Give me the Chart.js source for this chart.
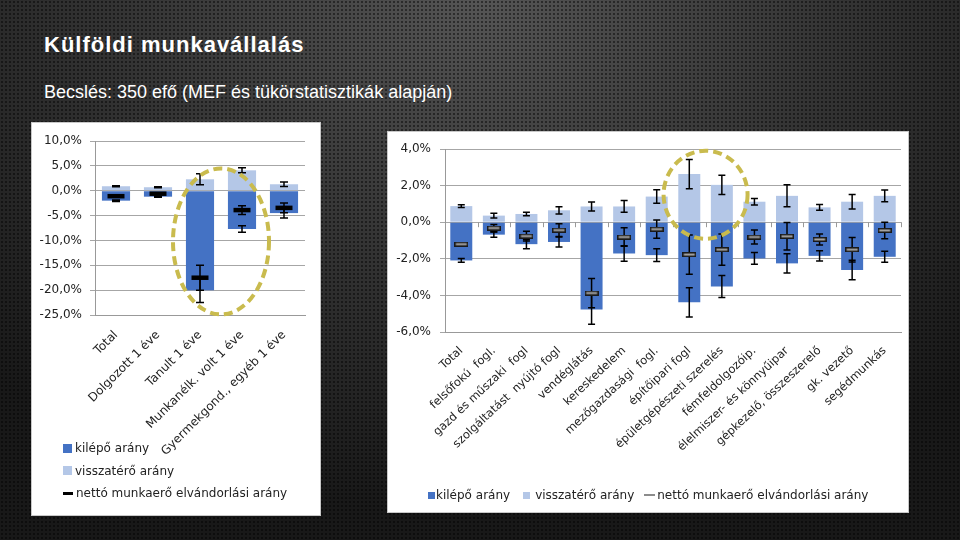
<!DOCTYPE html>
<html lang="hu">
<head>
<meta charset="UTF-8">
<title>Külföldi munkavállalás</title>
<script src="https://cdn.jsdelivr.net/npm/chart.js"></script>
<style>
  html, body { margin: 0; padding: 0; }
  body {
    width: 960px; height: 540px; overflow: hidden; position: relative;
    background-color: #262626;
    background-image:
      radial-gradient(circle, rgba(0,0,0,0.45) 0.8px, transparent 1.4px),
      radial-gradient(ellipse 75% 95% at 50% 0%, #555 0%, #343434 50%, #181818 100%);
    background-size: 4px 4px, 100% 100%;
    font-family: "Liberation Sans", Arial, sans-serif;
  }
  .title { position: absolute; left: 44px; top: 34px; font-size: 22px; font-weight: bold; letter-spacing: 1px; color: #fff; line-height: 1; }
  .subtitle { position: absolute; left: 44px; top: 83px; font-size: 18px; color: #fff; line-height: 1; }
  .panel { position: absolute; background: #fff; outline: 1px solid #c8c8c8; }
  .panel canvas { position: absolute; left: 0; top: 0; }
  #leftPanel { left: 32px; top: 123px; width: 288px; height: 392px; }
  #rightPanel { left: 388px; top: 132px; width: 520px; height: 380px; }
  .legend { position: absolute; font-family: "DejaVu Sans", sans-serif; font-size: 12px; color: #222; }
  .legend .item { display: flex; align-items: center; height: 14px; white-space: nowrap; }
  .sw { display: inline-block; flex: none; }
  #leftLegend { left: 31px; top: 318px; }
  #leftLegend .item { margin-bottom: 8.5px; }
  #leftLegend .sw { width: 9px; height: 9px; margin-right: 3px; }
  #leftLegend .sw2 { width: 10px; height: 3px; background: #000; }
  #rightLegend { left: 40px; top: 356px; display: flex; }
  #rightLegend .sw { width: 7px; height: 7px; margin-right: 1px; }
  #rightLegend .item:nth-child(1) { margin-right: 13px; }
  #rightLegend .item:nth-child(2) { margin-right: 10px; }
  #rightLegend .item:nth-child(2) .sw { margin-right: 5px; }
  #rightLegend .sw2 { width: 11px; height: 2px; background: #8c8c8c; margin-right: 2px; }
  .sw0 { background: #4472c4; }
  .sw1 { background: #b4c7e7; }
</style>
</head>
<body>
  <div class="title">Külföldi munkavállalás</div>
  <div class="subtitle">Becslés: 350 efő (MEF és tükörstatisztikák alapján)</div>

  <div class="panel" id="leftPanel">
    <canvas id="leftChart"></canvas>
    <div class="legend" id="leftLegend"></div>
  </div>
  <div class="panel" id="rightPanel">
    <canvas id="rightChart"></canvas>
    <div class="legend" id="rightLegend"></div>
  </div>

<script>
const seriesNames = ['kilépő arány', 'visszatérő arány', 'nettó munkaerő elvándorlási arány'];

// bal oldali ábra (%)
const leftLabels = ['Total', 'Dolgozott 1 éve', 'Tanult 1 éve', 'Munkanélk. volt 1 éve', 'Gyermekgond., egyéb 1 éve'];
const leftKilepo = [-2.0, -1.2, -20.0, -7.7, -4.5];
const leftKilepoErr = [0.15, 0.1, 2.5, 0.65, 1.0];
const leftVissza = [0.9, 0.7, 2.3, 4.1, 1.3];
const leftVisszaErr = [0.1, 0.1, 1.1, 0.5, 0.45];
const leftNetto = [-1.1, -0.6, -17.5, -3.9, -3.45];
const leftNettoErr = [0.12, 0.1, 2.5, 0.9, 1.0];
const leftTicks = [10, 5, 0, -5, -10, -15, -20, -25];

// jobb oldali ábra (%)
const rightLabels = ['Total', 'felsőfokú  fogl.', 'gazd és műszaki  fogl', 'szolgáltatást  nyújtó fogl', 'vendéglátás',
  'kereskedelem', 'mezőgazdasági  fogl.', 'építőipari fogl', 'épületgépészeti szerelés', 'fémfeldolgozóip.',
  'élelmiszer- és könnyűipar', 'gépkezelő, összeszerelő', 'gk. vezető', 'segédmunkás'];
const rightKilepo = [-2.09, -0.68, -1.2, -1.08, -4.77, -1.71, -1.8, -4.38, -3.51, -1.98, -2.25, -1.84, -2.61, -1.89];
const rightKilepoErr = [0.1, 0.14, 0.25, 0.27, 0.8, 0.42, 0.35, 0.8, 0.6, 0.32, 0.53, 0.28, 0.53, 0.3];
const rightVissza = [0.88, 0.36, 0.45, 0.65, 0.86, 0.86, 1.4, 2.63, 2.04, 1.12, 1.44, 0.81, 1.12, 1.44];
const rightVisszaErr = [0.07, 0.13, 0.1, 0.2, 0.25, 0.32, 0.37, 0.8, 0.53, 0.18, 0.6, 0.16, 0.4, 0.32];
const rightNetto = [-1.2, -0.32, -0.76, -0.43, -3.87, -0.81, -0.38, -1.77, -1.5, -0.81, -0.77, -0.94, -1.5, -0.45];
const rightNettoErr = [0.05, 0.2, 0.27, 0.35, 0.8, 0.5, 0.5, 1.07, 0.85, 0.38, 0.75, 0.3, 0.67, 0.45];
const rightTicks = [4, 2, 0, -2, -4, -6];

const DARK = '#4472c4';
const LIGHT = '#b4c7e7';
const pct = v => v.toFixed(1).replace('.', ',') + '%';

// error bars, zero-line ticks and the dashed highlight ellipse
const extrasPlugin = {
  id: 'extras',
  beforeDatasetsDraw(chart, args, opts) {
    if (!opts.zeroTicks) return;
    const x = chart.scales.x, y0 = chart.scales.y.getPixelForValue(0);
    const ctx = chart.ctx;
    ctx.save();
    ctx.strokeStyle = '#9a9a9a';
    ctx.lineWidth = 1;
    for (let i = 0; i <= chart.data.labels.length; i++) {
      const px = i === 0 ? x.left : i === chart.data.labels.length ? x.right
        : (x.getPixelForTick(i - 1) + x.getPixelForTick(i)) / 2;
      ctx.beginPath();
      ctx.moveTo(Math.round(px) + 0.5, y0);
      ctx.lineTo(Math.round(px) + 0.5, y0 + 5);
      ctx.stroke();
    }
    ctx.restore();
  },
  beforeDatasetDraw(chart, args, opts) {
    if (args.index !== 0) return; // the net dataset is drawn last: put the error bars under its markers
    const ctx = chart.ctx, y = chart.scales.y;
    ctx.save();
    ctx.strokeStyle = '#000';
    ctx.lineWidth = 1.5;
    chart.data.datasets.forEach((ds, i) => {
      if (!ds.errors) return;
      const meta = chart.getDatasetMeta(i);
      ds.data.forEach((v, j) => {
        const e = ds.errors[j];
        const px = meta.data[j].x;
        const top = y.getPixelForValue(v + e), bot = y.getPixelForValue(v - e);
        ctx.beginPath();
        ctx.moveTo(px, top); ctx.lineTo(px, bot);
        ctx.moveTo(px - opts.cap, top); ctx.lineTo(px + opts.cap, top);
        ctx.moveTo(px - opts.cap, bot); ctx.lineTo(px + opts.cap, bot);
        ctx.stroke();
      });
    });
    ctx.restore();
  },
  afterDraw(chart, args, opts) {
    const el = opts.ellipse;
    if (!el) return;
    const x = chart.scales.x, y = chart.scales.y;
    const cx = (x.getPixelForTick(el.between[0]) + x.getPixelForTick(el.between[1])) / 2;
    const cy = y.getPixelForValue(el.value);
    const ctx = chart.ctx;
    ctx.save();
    ctx.strokeStyle = '#c9bb4e';
    ctx.lineWidth = 4;
    ctx.setLineDash([9, 5]);
    ctx.beginPath();
    ctx.ellipse(cx, cy, el.rx, el.ry, 0, 0, Math.PI * 2);
    ctx.stroke();
    ctx.restore();
  }
};

// black-edged grey dash used as the net marker on the right chart
function netMarker() {
  const c = document.createElement('canvas');
  c.width = 14; c.height = 5;
  const g = c.getContext('2d');
  g.fillStyle = '#1a1a1a';
  g.fillRect(0, 0, 14, 5);
  g.fillStyle = '#a8a8a8';
  g.fillRect(1.5, 1.5, 11, 2);
  return c;
}

function makeChart(id, cfg) {
  return new Chart(document.getElementById(id), {
    type: 'bar',
    data: {
      labels: cfg.labels,
      datasets: [
        { type: 'line', label: seriesNames[2], data: cfg.netto, errors: cfg.nettoErr, showLine: false, order: 0,
          pointStyle: cfg.pointStyle, pointRadius: cfg.pointRadius, pointBorderWidth: cfg.pointBorderWidth,
          borderColor: '#000', backgroundColor: '#000' },
        { label: seriesNames[0], data: cfg.kilepo, errors: cfg.kilepoErr, backgroundColor: DARK, order: 1,
          barPercentage: cfg.barPct, categoryPercentage: 1 },
        { label: seriesNames[1], data: cfg.vissza, errors: cfg.visszaErr, backgroundColor: LIGHT, order: 1,
          barPercentage: cfg.barPct, categoryPercentage: 1 }
      ]
    },
    options: {
      responsive: true,
      maintainAspectRatio: false,
      animation: false,
      layout: { padding: { top: cfg.padTop, right: cfg.padRight, left: 0, bottom: 0 } },
      plugins: {
        legend: { display: false },
        tooltip: { enabled: false },
        extras: { cap: cfg.cap, zeroTicks: cfg.zeroTicks, ellipse: cfg.ellipse }
      },
      scales: {
        x: {
          stacked: true,
          grid: { display: false, drawTicks: false },
          border: { display: true, color: '#999' },
          ticks: {
            color: '#222', autoSkip: false, padding: cfg.xPad,
            minRotation: cfg.rotation, maxRotation: cfg.rotation,
            font: { family: 'DejaVu Sans', size: cfg.xFont }
          },
          afterFit: s => { s.height = cfg.xHeight; }
        },
        y: {
          z: cfg.gridOnTop ? 1 : 0,
          min: cfg.ticks[cfg.ticks.length - 1],
          max: cfg.ticks[0],
          afterBuildTicks: s => { s.ticks = cfg.ticks.map(v => ({ value: v })); },
          grid: { color: '#a6a6a6', lineWidth: 1, tickLength: 5 },
          border: { display: true, color: '#999' },
          ticks: {
            color: '#222', padding: cfg.yPad, callback: v => pct(v),
            font: { family: 'DejaVu Sans', size: 12 }
          },
          afterFit: s => { s.width = cfg.yWidth; }
        }
      }
    },
    plugins: [extrasPlugin]
  });
}

makeChart('leftChart', {
  labels: leftLabels, kilepo: leftKilepo, kilepoErr: leftKilepoErr, vissza: leftVissza, visszaErr: leftVisszaErr,
  netto: leftNetto, nettoErr: leftNettoErr, ticks: leftTicks,
  pointStyle: 'line', pointRadius: 8.5, pointBorderWidth: 4.5,
  barPct: 0.67, padTop: 18, padRight: 15, yWidth: 63, xHeight: 200, yPad: 8, xPad: 13,
  rotation: 45, xFont: 12, cap: 4, gridOnTop: true, zeroTicks: false,
  ellipse: { between: [2, 3], value: -10.2, rx: 48, ry: 73 }
});

makeChart('rightChart', {
  labels: rightLabels, kilepo: rightKilepo, kilepoErr: rightKilepoErr, vissza: rightVissza, visszaErr: rightVisszaErr,
  netto: rightNetto, nettoErr: rightNettoErr, ticks: rightTicks,
  pointStyle: netMarker(), pointRadius: 7, pointBorderWidth: 0,
  barPct: 0.675, padTop: 17, padRight: 6, yWidth: 57, xHeight: 180, yPad: 9, xPad: 12,
  rotation: 43, xFont: 11.5, cap: 3.5, gridOnTop: false, zeroTicks: true,
  ellipse: { between: [7, 8], value: 1.5, rx: 42, ry: 44 }
});

// legends
function buildLegend(id) {
  const box = document.getElementById(id);
  seriesNames.forEach((name, i) => {
    const row = document.createElement('div');
    row.className = 'item';
    const sw = document.createElement('span');
    sw.className = 'sw sw' + i;
    const tx = document.createElement('span');
    tx.textContent = name;
    row.append(sw, tx);
    box.append(row);
  });
}
buildLegend('leftLegend');
buildLegend('rightLegend');
</script>
</body>
</html>
